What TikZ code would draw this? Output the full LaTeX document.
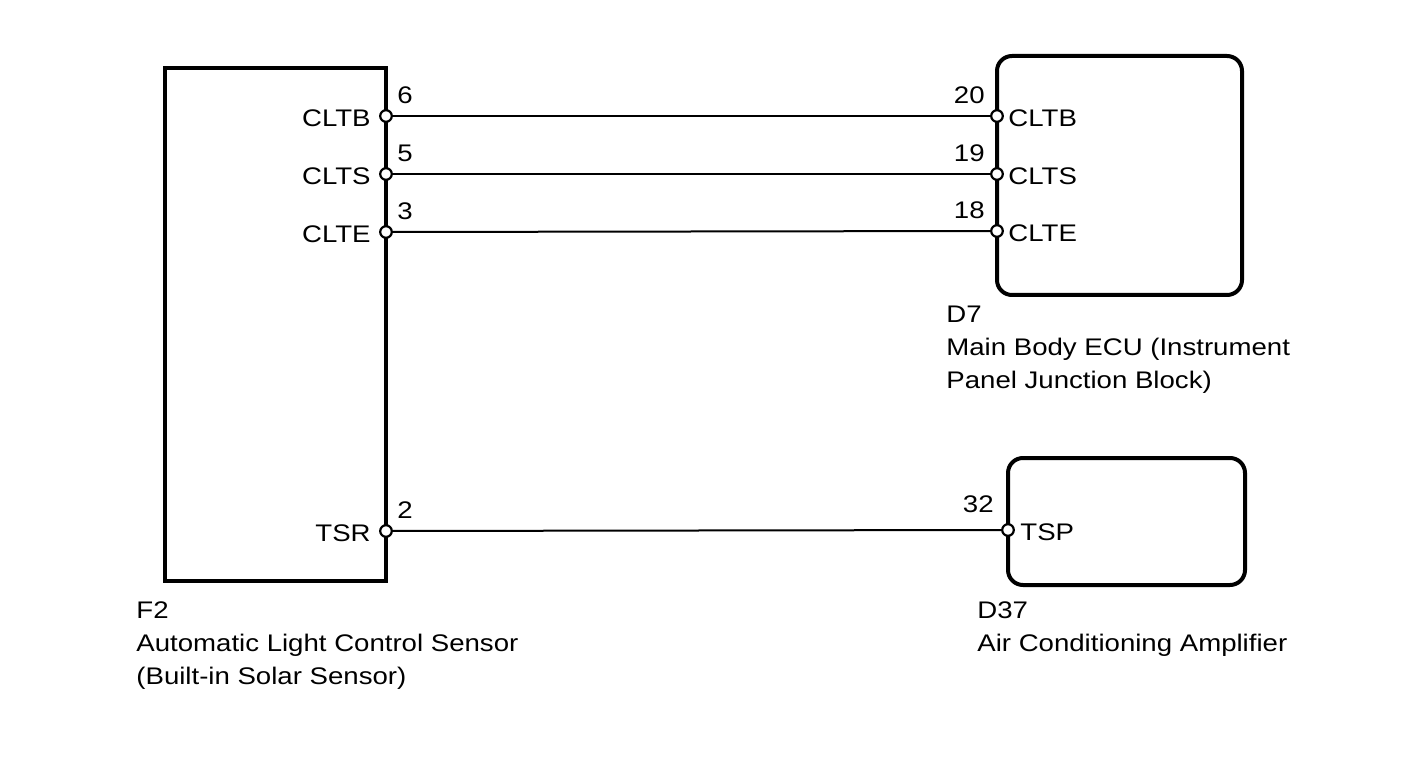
\documentclass[tikz,border=0pt]{standalone}
\usepackage{fontspec}
\setmainfont{Liberation Sans}[FakeStretch=1.15]
\begin{document}
\begin{tikzpicture}[x=0.5pt,y=-0.5pt,
  font=\fontsize{12}{16.5}\selectfont,
  box/.style={draw, line width=2pt, inner sep=0pt},
  term/.style={circle, draw, fill=white, line width=1.1pt, inner sep=0pt, minimum size=5.8pt},
  txt/.style={inner sep=0pt, align=left}]
\useasboundingbox (0,0) rectangle (1424,759);
\node[box, minimum width=110.5pt, minimum height=256.5pt] (f2) at (275.5,324.5){};
\node[box, rounded corners=7.5pt, minimum width=122.5pt, minimum height=119.5pt] (d7) at (1119.5,175.5){};
\node[box, rounded corners=7.5pt, minimum width=118.5pt, minimum height=63.5pt] (d37) at (1126.5,521.5){};
\node[term] (f2t6) at (386,116){};
\node[term] (f2t5) at (386,174){};
\node[term] (f2t3) at (386,232){};
\node[term] (f2t2) at (386,531){};
\node[term] (d7t20) at (997,116){};
\node[term] (d7t19) at (997,174){};
\node[term] (d7t18) at (997,231){};
\node[term] (d37t32) at (1008,530){};
\draw[line width=1pt](f2t6) -- (d7t20);
\draw[line width=1pt](f2t5) -- (d7t19);
\draw[line width=1pt](f2t3) -- (d7t18);
\draw[line width=1pt](f2t2) -- (d37t32);
\node[txt, anchor=east] at (371,118){CLTB};
\node[txt, anchor=east] at (371,176){CLTS};
\node[txt, anchor=east] at (371,234){CLTE};
\node[txt, anchor=east] at (371,533){TSR};
\node[txt, anchor=south west] at (397,104){6};
\node[txt, anchor=south west] at (397,162){5};
\node[txt, anchor=south west] at (397,220){3};
\node[txt, anchor=south west] at (397,519){2};
\node[txt, anchor=west] at (1008,118){CLTB};
\node[txt, anchor=west] at (1008,176){CLTS};
\node[txt, anchor=west] at (1008,233){CLTE};
\node[txt, anchor=west] at (1020,532){TSP};
\node[txt, anchor=south east] at (985,104){20};
\node[txt, anchor=south east] at (985,162){19};
\node[txt, anchor=south east] at (985,219){18};
\node[txt, anchor=south east] at (994,513){32};
\node[txt, anchor=north west] (f2lbl) at (136,601){F2\\Automatic Light Control Sensor\\(Built-in Solar Sensor)};
\node[txt, anchor=north west] (d7lbl) at (946,306){D7\\Main Body ECU (Instrument\\Panel Junction Block)};
\node[txt, anchor=north west] (d37lbl) at (977,601){D37\\Air Conditioning Amplifier};

\end{tikzpicture}
\end{document}
